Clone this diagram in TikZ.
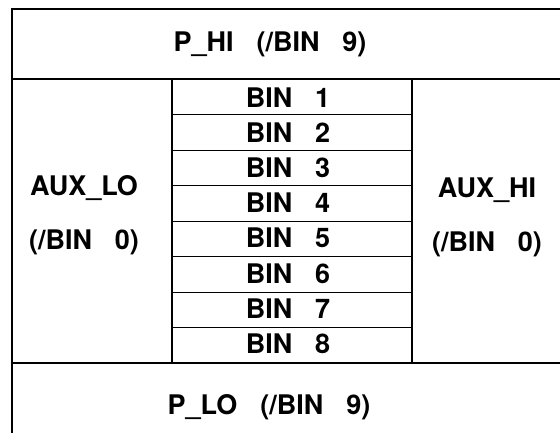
\documentclass[tikz,border=0pt]{standalone}
\usepackage{fontspec}
\setmainfont{TeX Gyre Heros}
\newcommand\gp{\hspace{0.85em}}
\begin{document}
\begin{tikzpicture}[x=1pt,y=-1pt,
  lbl/.style={anchor=base,inner sep=0pt,font=\fontsize{27}{32}\selectfont\bfseries},
  thickln/.style={line width=2.2pt,black},
  thinln/.style={line width=0.9pt,black}]
\useasboundingbox (0,0) rectangle (560,432);
\clip (0,0) rectangle (560,432);
\fill[white] (0,0) rectangle (560,432);
% outer frame
\draw[thickln] (12,9) rectangle (574,458);
\draw[thickln] (12,79) -- (574,79);
\draw[thickln] (12,363) -- (574,363);
\draw[thickln] (172,79) -- (172,363);
\draw[thickln] (412,79) -- (412,363);
\foreach \k in {1,...,7}{
  \draw[thinln] (172,{79+35.5*\k}) -- (412,{79+35.5*\k});
}
\node[lbl] (phi) at (270,51) {P\_HI\gp(/BIN\gp9)};
\foreach \k in {1,...,8}{
  \node[lbl] (bin\k) at (288,{107.5+35.1*(\k-1)}) {BIN\gp\k};
}
\node[lbl] (auxlo) at (84,195) {AUX\_LO};
\node[lbl] (auxlob) at (84,249) {(/BIN\gp0)};
\node[lbl] (auxhi) at (487,197) {AUX\_HI};
\node[lbl] (auxhib) at (487,251) {(/BIN\gp0)};
\node[lbl] (plo) at (269,414) {P\_LO\gp(/BIN\gp9)};
\end{tikzpicture}
\end{document}
